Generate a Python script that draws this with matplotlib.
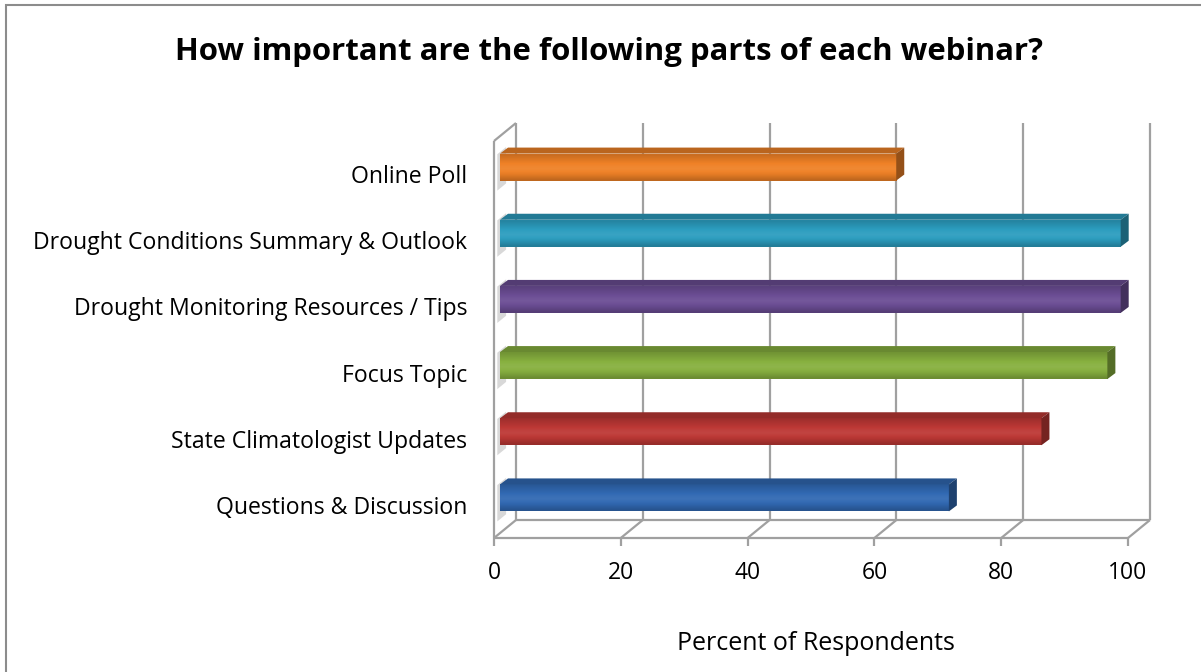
import numpy as np
import matplotlib
matplotlib.use("Agg")
import matplotlib.pyplot as plt
from matplotlib.patches import Polygon, Rectangle
from matplotlib.colors import to_rgb
from matplotlib import transforms

categories = ["Questions & Discussion", "State Climatologist Updates", "Focus Topic",
              "Drought Monitoring Resources / Tips", "Drought Conditions Summary & Outlook",
              "Online Poll"]
values = [70.8, 85.4, 95.8, 97.9, 97.9, 62.5]
bar_colors = ["#3169B3", "#BD3835", "#87B03F", "#6B4D94", "#2C9DBF", "#EF8126"]
xticks = [0, 20, 40, 60, 80, 100]
title = "How important are the following parts of each webinar?"
xlabel = "Percent of Respondents"

W, H = 1201, 672
FONT = "Open Sans"
fig = plt.figure(figsize=(W / 100, H / 100), dpi=100)
L, R, T, B = 494, 1128, 141, 538
ax = fig.add_axes([L / W, (H - B) / H, (R - L) / W, (B - T) / H])
n = len(categories)
ax.set_xlim(0, 100)
ax.set_ylim(0, n)
ax.axis("off")

px_x = (R - L) / 100.0
px_y = (B - T) / n
DX, DY = 22 / px_x, 18 / px_y          # wall depth
FX, FY = 6 / px_x, 7 / px_y            # bar front offset
BX, BY = 8 / px_x, 6 / px_y            # bar depth
BH = 27 / px_y                         # bar height

grid_c = "#A0A0A0"
lw = 1.6
kw = dict(color=grid_c, lw=lw, clip_on=False, solid_capstyle="butt")

# left wall shading
for i in range(n):
    yc = i + 0.5
    shadow = Polygon([(0.15 * DX, yc - 0.25), (0.55 * DX, yc - 0.25 + 0.4 * DY),
                      (0.55 * DX, yc + 0.3 + 0.4 * DY), (0.15 * DX, yc + 0.3)],
                     closed=True, fc="#CFCFCF", ec="none", alpha=0.8, clip_on=False)
    ax.add_patch(shadow)

# back wall gridlines and floor
for t in xticks:
    ax.plot([t + DX, t + DX], [DY, n + DY], **kw)
    ax.plot([t, t + DX], [0, DY], **kw)
ax.plot([DX, 100 + DX], [DY, DY], **kw)
ax.plot([0, 100], [0, 0], **kw)
ax.plot([0, 0], [0, n], **kw)
ax.plot([0, DX], [n, n + DY], **kw)

# ticks
for t in xticks:
    ax.plot([t, t], [0, -8 / px_y], **kw)
    ax.text(t, 0, str(t), transform=transforms.offset_copy(ax.transData, fig, x=0, y=-35, units="dots"),
            ha="center", va="center", fontsize=16.5, family=FONT, color="#000000")


def shade(c, f):
    r = np.array(to_rgb(c))
    if f >= 1:
        return tuple(r + (1 - r) * (f - 1))
    return tuple(r * f)


# bars
for i, (v, c) in enumerate(zip(values, bar_colors)):
    yc = i + 0.5 + FY
    y0, y1 = yc - BH / 2, yc + BH / 2
    x0, x1 = FX, v + FX
    grad = np.array([0.80, 0.88, 0.96, 1.02, 1.06, 1.04, 1.0, 0.95, 0.9, 0.85])
    img = np.array([[shade(c, g)] for g in grad])
    im = ax.imshow(img, extent=(x0, x1, y0, y1), aspect="auto", origin="lower",
                   interpolation="bilinear", clip_on=True, zorder=3)
    face = Rectangle((x0, y0), x1 - x0, y1 - y0, fc="none", ec="none", transform=ax.transData)
    ax.add_patch(face)
    im.set_clip_path(face)
    top = Polygon([(x0, y1), (x1, y1), (x1 + BX, y1 + BY), (x0 + BX, y1 + BY)],
                  closed=True, fc=shade(c, 0.78), ec="none", zorder=3, clip_on=False)
    side = Polygon([(x1, y0), (x1 + BX, y0 + BY), (x1 + BX, y1 + BY), (x1, y1)],
                   closed=True, fc=shade(c, 0.62), ec="none", zorder=3, clip_on=False)
    ax.add_patch(top)
    ax.add_patch(side)

ax.set_xlim(0, 100)
ax.set_ylim(0, n)

# category labels
lab_tr = transforms.offset_copy(ax.transData, fig, x=-27, y=-3, units="dots")
for i, cat in enumerate(categories):
    ax.text(0, i + 0.5, cat, transform=lab_tr, ha="right", va="center",
            fontsize=16.6, family=FONT, color="#000000")

fig.text(609 / W, 1 - 52 / H, title, ha="center", va="center", fontsize=22.4,
         fontweight="bold", family=FONT)
fig.text(816 / W, 1 - 644 / H, xlabel, ha="center", va="center", fontsize=18, family=FONT)

fig.patches.append(Rectangle((6 / W, -0.1), 1.2, (H - 5) / H + 0.1, transform=fig.transFigure,
                             fill=False, ec="#8C8C8C", lw=1.5))

fig.savefig("out.png", dpi=100)
